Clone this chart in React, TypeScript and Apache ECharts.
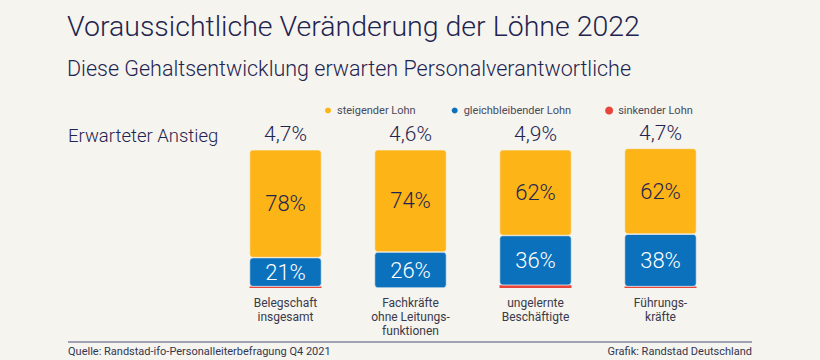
import React, { useEffect, useRef } from "react";
import * as echarts from "echarts";

const categories = [
  "Belegschaft\ninsgesamt",
  "Fachkräfte\nohne Leitungs-\nfunktionen",
  "ungelernte\nBeschäftigte",
  "Führungs-\nkräfte",
];
const steigend = [78, 74, 62, 62];
const gleich = [21, 26, 36, 38];
const sinkend = [1, 0, 2, 1];
const anstieg = ["4,7%", "4,6%", "4,9%", "4,7%"];

const BG = "#f5f4ef";
const NAVY = "#1f2450";
const FONT = "Roboto";

export default function App() {
  const ref = useRef<HTMLDivElement>(null);
  useEffect(() => {
    if (!ref.current) return;
    const chart = echarts.init(ref.current, undefined, { renderer: "svg" });
    chart.setOption({
      animation: false,
      backgroundColor: BG,
      textStyle: { fontFamily: FONT },
      title: [
        {
          text: "Voraussichtliche Veränderung der Löhne 2022",
          left: 67,
          top: 12,
          padding: 0,
          textStyle: { fontSize: 28.5, fontWeight: 300, color: NAVY, fontFamily: FONT },
        },
        {
          text: "Diese Gehaltsentwicklung erwarten Personalverantwortliche",
          left: 67,
          top: 57,
          padding: 0,
          textStyle: { fontSize: 21.5, fontWeight: 300, color: NAVY, fontFamily: FONT },
        },
        {
          text: "Erwarteter Anstieg",
          left: 68,
          top: 126,
          padding: 0,
          textStyle: { fontSize: 18.5, fontWeight: 300, color: NAVY, fontFamily: FONT },
        },
      ],
      legend: {
        top: 100,
        left: 318,
        itemGap: 34,
        icon: "circle",
        itemWidth: 8,
        itemHeight: 8,
        data: ["steigender Lohn", "gleichbleibender Lohn", "sinkender Lohn"],
        textStyle: { fontSize: 11, color: "#4a4a5a", fontFamily: FONT },
      },
      grid: { left: 223, width: 500, top: 147, height: 141 },
      xAxis: {
        type: "category",
        data: categories,
        axisLine: { show: false },
        axisTick: { show: false },
        axisLabel: {
          fontSize: 12,
          color: "#3a3a4a",
          lineHeight: 14,
          margin: 8,
          fontFamily: FONT,
        },
      },
      yAxis: { type: "value", min: 0, max: 102, show: false },
      series: [
        {
          name: "sinkender Lohn",
          type: "bar",
          stack: "a",
          barWidth: 72,
          data: sinkend,
          itemStyle: { color: "#e8463c" },
        },
        {
          name: "gleichbleibender Lohn",
          type: "bar",
          stack: "a",
          data: gleich,
          itemStyle: { color: "#0b71bd", borderRadius: 3, borderColor: BG, borderWidth: 0.6 },
          label: {
            show: true,
            position: "inside",
            formatter: "{c}%",
            fontSize: 22,
            color: "#ffffff",
            fontFamily: FONT,
            fontWeight: 300,
          },
        },
        {
          name: "steigender Lohn",
          type: "bar",
          stack: "a",
          data: steigend,
          itemStyle: { color: "#fcb416", borderRadius: 3, borderColor: BG, borderWidth: 0.6 },
          label: {
            show: true,
            position: "inside",
            formatter: "{c}%",
            fontSize: 22,
            color: NAVY,
            fontFamily: FONT,
            fontWeight: 300,
          },
        },
        {
          name: "Anstieg",
          type: "bar",
          stack: "a",
          data: anstieg.map(() => 0),
          itemStyle: { color: "transparent" },
          label: {
            show: true,
            position: "top",
            distance: 5,
            formatter: (p: any) => anstieg[p.dataIndex],
            fontSize: 21,
            color: NAVY,
            fontFamily: FONT,
            fontWeight: 300,
          },
        },
      ],
      graphic: [
        {
          type: "line",
          shape: { x1: 68, y1: 342, x2: 752, y2: 342 },
          style: { stroke: "#4a4e72", lineWidth: 1 },
        },
        {
          type: "text",
          left: 68,
          top: 346,
          style: { text: "Quelle: Randstad-ifo-Personalleiterbefragung Q4 2021", fontSize: 11, fill: "#33364f", fontFamily: FONT },
        },
        {
          type: "text",
          right: 68,
          top: 346,
          style: { text: "Grafik: Randstad Deutschland", fontSize: 11, fill: "#33364f", fontFamily: FONT },
        },
      ],
    });
    return () => chart.dispose();
  }, []);
  return (
    <div
      ref={ref}
      style={{ position: "absolute", left: 0, top: 0, width: 820, height: 360 }}
    />
  );
}
